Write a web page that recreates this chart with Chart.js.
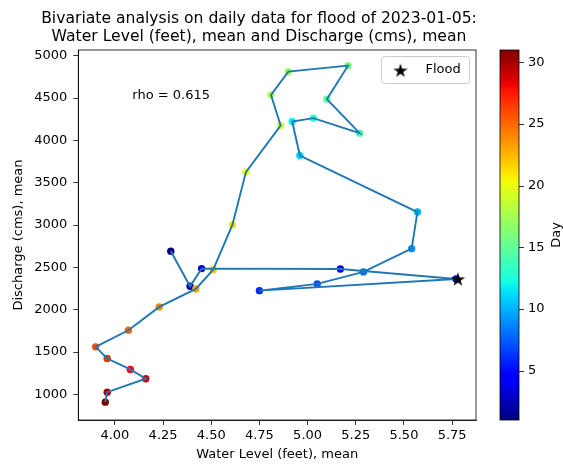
<!DOCTYPE html>
<html lang="en">
<head>
<meta charset="UTF-8">
<title>Bivariate analysis</title>
<script src="https://cdn.jsdelivr.net/npm/chart.js"></script>
<style>
  html, body { margin: 0; padding: 0; background: #fff; }
  #wrap { width: 563px; height: 464px; }
</style>
</head>
<body>
<div id="wrap"><canvas id="chart" width="563" height="464"></canvas></div>
<script>
// values, one entry per day of the month
const days = [1, 2, 3, 4, 5, 6, 7, 8, 9, 10, 11, 12, 13, 14, 15, 16,
              17, 18, 19, 20, 21, 22, 23, 24, 25, 26, 27, 28, 29, 30, 31];
const waterLevel = [4.29, 4.39, 4.45, 5.17, 5.77, 4.75, 5.05, 5.29, 5.54, 5.57, 4.96,
                    4.92, 5.03, 5.27, 5.10, 5.21, 4.90, 4.81, 4.86, 4.68, 4.61, 4.51,
                    4.42, 4.23, 4.07, 3.90, 3.96, 4.08, 4.16, 3.96, 3.95];
const discharge = [2690, 2276, 2485, 2481, 2363, 2225, 2304, 2446, 2721, 3153, 3821,
                   4222, 4262, 4085, 4486, 4882, 4811, 4537, 4175, 3625, 3004, 2473,
                   2245, 2033, 1757, 1561, 1423, 1294, 1184, 1026, 908];
const floodLevel = [5.78];
const floodDischarge = [2360];
const xTicks = [4.00, 4.25, 4.50, 4.75, 5.00, 5.25, 5.50, 5.75];
const yTicks = [1000, 1500, 2000, 2500, 3000, 3500, 4000, 4500, 5000];
const dayTicks = [5, 10, 15, 20, 25, 30];
const titleLines = ['Bivariate analysis on daily data for flood of 2023-01-05:',
                    'Water Level (feet), mean and Discharge (cms), mean'];
const rhoText = 'rho = 0.615';

const FONT = 'DejaVu Sans';

// matplotlib "jet" colormap
const jetR = [[0, 0], [0.35, 0], [0.66, 1], [0.89, 1], [1, 0.5]];
const jetG = [[0, 0], [0.125, 0], [0.375, 1], [0.64, 1], [0.91, 0], [1, 0]];
const jetB = [[0, 0.5], [0.11, 1], [0.34, 1], [0.65, 0], [1, 0]];
function seg(s, t) {
  for (let i = 1; i < s.length; i++) {
    if (t <= s[i][0]) {
      const f = (t - s[i - 1][0]) / (s[i][0] - s[i - 1][0]);
      return s[i - 1][1] + f * (s[i][1] - s[i - 1][1]);
    }
  }
  return s[s.length - 1][1];
}
function jet(t) {
  t = Math.min(1, Math.max(0, t));
  const c = v => Math.round(255 * v);
  return `rgb(${c(seg(jetR, t))},${c(seg(jetG, t))},${c(seg(jetB, t))})`;
}
const dayMin = 1, dayMax = 31;
const dayColor = d => jet((d - dayMin) / (dayMax - dayMin));

// filled five point star like matplotlib's '*'
function makeStar(size) {
  const cv = document.createElement('canvas');
  cv.width = size; cv.height = size;
  const g = cv.getContext('2d');
  const cx = size / 2, cy = size / 2 + 0.5, ro = size / 2 - 0.5, ri = ro * 0.38;
  g.beginPath();
  for (let i = 0; i < 10; i++) {
    const r = i % 2 ? ri : ro;
    const a = -Math.PI / 2 + i * Math.PI / 5;
    g.lineTo(cx + r * Math.cos(a), cy + r * Math.sin(a));
  }
  g.closePath();
  g.fillStyle = '#000';
  g.fill();
  return cv;
}
const star = makeStar(16);

const extras = {
  id: 'extras',
  afterDatasetsDraw(chart) {
    const { ctx, chartArea: a } = chart;
    ctx.save();
    // full frame
    ctx.strokeStyle = '#000';
    ctx.lineWidth = 0.8;
    ctx.strokeRect(a.left, a.top, a.right - a.left, a.bottom - a.top);

    ctx.fillStyle = '#000';
    ctx.textBaseline = 'middle';

    // title (centred over the plot like the figure title)
    ctx.font = `15.6px "${FONT}"`;
    ctx.textAlign = 'center';
    ctx.fillText(titleLines[0], 259, 19);
    ctx.fillText(titleLines[1], 259, 37);

    // rho annotation
    ctx.font = `13px "${FONT}"`;
    ctx.textAlign = 'left';
    ctx.fillText(rhoText, a.left + 54, a.top + 46);

    // legend
    const lx = a.right - 94.5, ly = a.top + 6.5, lw = 88, lh = 27;
    ctx.beginPath();
    ctx.roundRect(lx, ly, lw, lh, 3);
    ctx.fillStyle = 'rgba(255,255,255,0.8)';
    ctx.fill();
    ctx.strokeStyle = '#cccccc';
    ctx.lineWidth = 1;
    ctx.stroke();
    ctx.drawImage(star, lx + 11, ly + 6);
    ctx.fillStyle = '#000';
    ctx.fillText(chart.data.datasets[2].label, lx + 44, ly + lh / 2);
    ctx.restore();
  },
  afterDraw(chart) {
    const { ctx, chartArea: a } = chart;
    const c = chart.scales.c;
    const top = c.getPixelForValue(dayMax), bot = c.getPixelForValue(dayMin);
    const x0 = a.right + 24, w = 19;
    ctx.save();
    const grad = ctx.createLinearGradient(0, bot, 0, top);
    for (let i = 0; i <= 64; i++) grad.addColorStop(i / 64, jet(i / 64));
    ctx.fillStyle = grad;
    ctx.fillRect(x0, top, w, bot - top);
    ctx.strokeStyle = '#000';
    ctx.lineWidth = 0.8;
    ctx.strokeRect(x0, top, w, bot - top);
    ctx.beginPath();
    dayTicks.forEach(d => {
      const y = Math.round(c.getPixelForValue(d)) + 0.5;
      ctx.moveTo(x0 + w, y);
      ctx.lineTo(x0 + w + 5, y);
    });
    ctx.stroke();
    ctx.translate(557, (top + bot) / 2);
    ctx.rotate(-Math.PI / 2);
    ctx.fillStyle = '#000';
    ctx.font = `13px "${FONT}"`;
    ctx.textAlign = 'center';
    ctx.textBaseline = 'middle';
    ctx.fillText('Day', 0, 0);
    ctx.restore();
  }
};

const tickFont = { family: FONT, size: 13 };
const noPad = s => { s.paddingTop = 0; s.paddingBottom = 0; s.paddingLeft = 0; s.paddingRight = 0; };

new Chart(document.getElementById('chart'), {
  type: 'scatter',
  data: {
    datasets: [
      {
        label: 'path',
        data: days.map((d, i) => ({ x: waterLevel[i], y: discharge[i] })),
        showLine: true,
        borderColor: '#1f77b4',
        borderWidth: 1.9,
        pointRadius: 0,
        order: 1
      },
      {
        label: 'days',
        data: days.map((d, i) => ({ x: waterLevel[i], y: discharge[i] })),
        pointRadius: 3.7,
        pointBorderWidth: 0,
        pointBackgroundColor: days.map(dayColor),
        order: 2
      },
      {
        label: 'Flood',
        data: floodLevel.map((v, i) => ({ x: v, y: floodDischarge[i] })),
        pointStyle: star,
        order: 0
      }
    ]
  },
  options: {
    responsive: false,
    animation: false,
    layout: { padding: { top: 50, left: 0, right: 0, bottom: 0 } },
    plugins: {
      legend: { display: false },
      tooltip: { enabled: false },
      title: { display: false }
    },
    scales: {
      x: {
        type: 'linear',
        min: 3.81,
        max: 5.874,
        afterBuildTicks: s => { s.ticks = xTicks.map(v => ({ value: v })); },
        afterFit: s => { s.height = 44; noPad(s); },
        ticks: { font: tickFont, color: '#000', padding: 3, maxRotation: 0,
                 callback: v => v.toFixed(2) },
        grid: { drawOnChartArea: false, tickLength: 5, color: '#000', lineWidth: 0.8 },
        border: { color: '#000', width: 0.8 },
        title: { display: true, text: 'Water Level (feet), mean', color: '#000',
                 font: tickFont, padding: { top: 0, bottom: 2 } }
      },
      y: {
        type: 'linear',
        position: 'left',
        min: 697,
        max: 5067,
        afterBuildTicks: s => { s.ticks = yTicks.map(v => ({ value: v })); },
        afterFit: s => { s.width = 78.3; noPad(s); },
        ticks: { font: tickFont, color: '#000', padding: 6, callback: v => String(v) },
        grid: { drawOnChartArea: false, tickLength: 5, color: '#000', lineWidth: 0.8 },
        border: { color: '#000', width: 0.8 },
        title: { display: true, text: 'Discharge (cms), mean', color: '#000',
                 font: tickFont, padding: { top: 11, bottom: 0 } }
      },
      c: {
        type: 'linear',
        position: 'right',
        min: dayMin,
        max: dayMax,
        afterBuildTicks: s => { s.ticks = dayTicks.map(v => ({ value: v })); },
        afterFit: s => { s.width = 87; noPad(s); },
        ticks: { font: tickFont, color: '#000', padding: 52, callback: v => String(v) },
        grid: { display: false, drawTicks: false },
        border: { display: false }
      }
    }
  },
  plugins: [extras]
});
</script>
</body>
</html>
